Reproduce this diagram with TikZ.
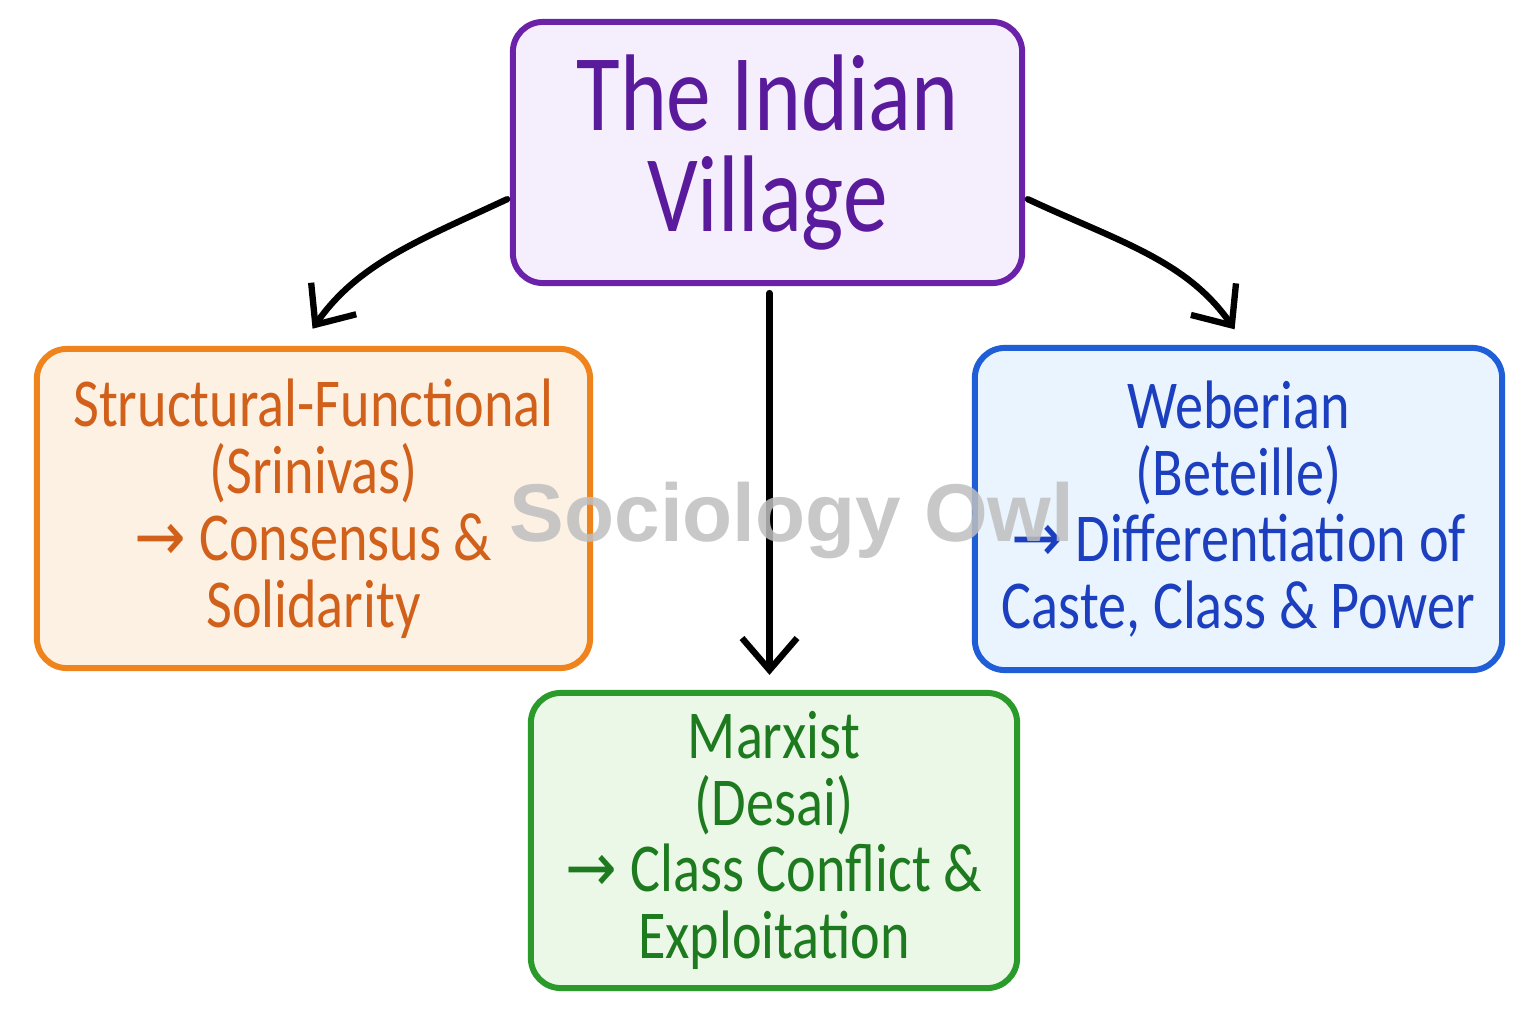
\documentclass[tikz,border=0pt]{standalone}
\usepackage{fontspec}
\setmainfont[FakeStretch=0.82]{Carlito}
\newfontfamily\markfont{Liberation Sans}
\newfontfamily\arrowfont[FakeStretch=0.9]{DejaVu Sans}
\usetikzlibrary{arrows.meta,positioning}

\definecolor{vpurple}{HTML}{6B22A9}
\definecolor{vpurpletext}{HTML}{5A1A9C}
\definecolor{vpurplefill}{HTML}{F5EEFC}
\definecolor{sforange}{HTML}{F0841C}
\definecolor{sforangetext}{HTML}{D0601A}
\definecolor{sforangefill}{HTML}{FDF1E4}
\definecolor{webblue}{HTML}{1F5ED6}
\definecolor{webbluetext}{HTML}{1C3FBF}
\definecolor{webbluefill}{HTML}{EAF4FE}
\definecolor{marxgreen}{HTML}{2A9A2A}
\definecolor{marxgreentext}{HTML}{1E7A1E}
\definecolor{marxgreenfill}{HTML}{EBF8E8}

\newcommand{\arr}{{\arrowfont →}}

\begin{document}
\begin{tikzpicture}[
    x=0.01cm, y=-0.01cm,
    box/.style={draw, rounded corners=0.3cm, line width=1.7pt, align=center, inner sep=0pt},
    titlebox/.style={box, draw=vpurple, fill=vpurplefill, text=vpurpletext,
        minimum width=5.09cm, minimum height=2.61cm, font=\fontsize{31}{28.5}\selectfont},
    school/.style={box, font=\fontsize{19.5}{19}\selectfont},
    arrow/.style={line width=1.8pt, line cap=round, -{Straight Barb[length=0.32cm, width=0.55cm]}}
]
    \fill[white] (0,0) rectangle (1536,1024);
    \useasboundingbox (0,0) rectangle (1536,1024);

    \node[titlebox] (title) at (767.5,152.5) {The Indian\\Village};

    \node[school, draw=sforange, fill=sforangefill, text=sforangetext,
        minimum width=5.53cm, minimum height=3.19cm] (sf) at (313.5,508.5)
        {Structural-Functional\\(Srinivas)\\\arr\ Consensus \&\\Solidarity};
    \node[school, draw=webblue, fill=webbluefill, text=webbluetext,
        minimum width=5.27cm, minimum height=3.22cm] (weber) at (1238.5,509)
        {Weberian\\(Beteille)\\\arr\ Differentiation of\\Caste, Class \& Power};
    \node[school, draw=marxgreen, fill=marxgreenfill, text=marxgreentext,
        minimum width=4.86cm, minimum height=2.95cm] (marx) at (774,840.5)
        {Marxist\\(Desai)\\\arr\ Class Conflict \&\\Exploitation};

    % links from the village to the three readings
    \draw[arrow, shorten <=0.03cm, shorten >=0.21cm] (title.190) to[out=205, in=55] ([xshift=-0.13cm]sf.north);
    \draw[arrow, shorten <=0.07cm, shorten >=0.15cm] ([xshift=0.02cm]title.south) -- ([xshift=0.02cm]title.south |- marx.north);
    \draw[arrow, shorten <=0.03cm, shorten >=0.19cm] (title.-10) to[out=-25, in=125] ([xshift=0.07cm]weber.north);

    \node[text=black!25, opacity=0.85, font=\markfont\bfseries\fontsize{23.3}{23.3}\selectfont] (mark) at (792,520) {Sociology Owl};
\end{tikzpicture}
\end{document}
